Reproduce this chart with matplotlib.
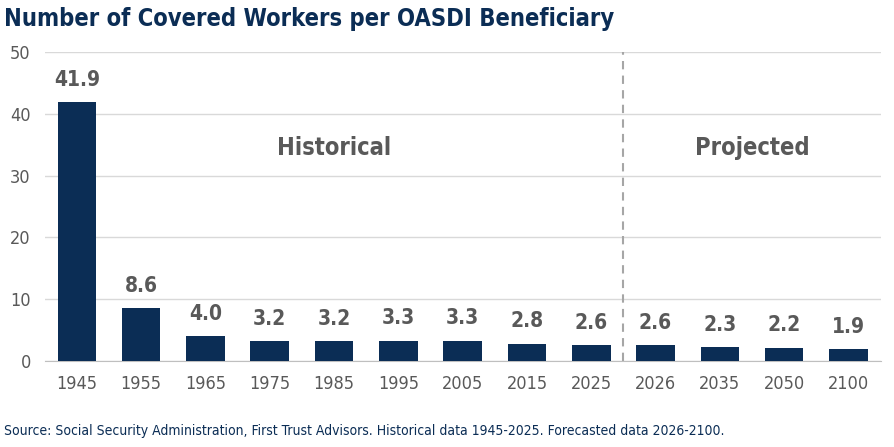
import matplotlib
matplotlib.use('Agg')
from matplotlib import pyplot as plt
import numpy as np

years = ['1945', '1955', '1965', '1975', '1985', '1995', '2005', '2015', '2025',
         '2026', '2035', '2050', '2100']
workers = [41.9, 8.6, 4.0, 3.2, 3.2, 3.3, 3.3, 2.8, 2.6, 2.6, 2.3, 2.2, 1.9]

plt.rcParams['font.family'] = ['DejaVu Sans']
plt.rcParams['font.stretch'] = 'condensed'
navy = '#0b2d55'
grey = '#595959'

fig = plt.figure(figsize=(8.94, 4.47), dpi=100)
ax = fig.add_axes([0.05, 0.192, 0.935, 0.692])
x = np.arange(len(years))
ax.bar(x, workers, width=0.6, color=navy, zorder=3)
for xi, v in zip(x, workers):
    ax.text(xi, v + 2.0, f'{v:.1f}', ha='center', va='bottom', fontsize=15,
            fontweight='bold', color=grey)
ax.axvline(8.5, color='#a6a6a6', linestyle=(0, (4, 3)), linewidth=1.5, zorder=2)
ax.text(4.0, 34.5, 'Historical', ha='center', va='center', fontsize=17,
        fontweight='bold', color=grey)
ax.text(10.5, 34.5, 'Projected', ha='center', va='center', fontsize=17,
        fontweight='bold', color=grey)
ax.set_xlim(-0.5, 12.5)
ax.set_ylim(0, 50)
ax.set_yticks(range(0, 51, 10))
ax.set_xticks(x)
ax.set_xticklabels(years)
ax.grid(axis='y', color='#d9d9d9', linewidth=1, zorder=0)
for s in ['top', 'right', 'left']:
    ax.spines[s].set_visible(False)
ax.spines['bottom'].set_color('#bfbfbf')
ax.tick_params(length=0, labelsize=13, colors=grey, pad=10)

fig.text(0.005, 0.958, 'Number of Covered Workers per OASDI Beneficiary', fontsize=17,
         fontweight='bold', color=navy, va='center')
fig.text(0.005, 0.035, 'Source: Social Security Administration, First Trust Advisors. '
         'Historical data 1945-2025. Forecasted data 2026-2100.', fontsize=10,
         color=navy, va='center')
fig.savefig('out.png', dpi=100)
